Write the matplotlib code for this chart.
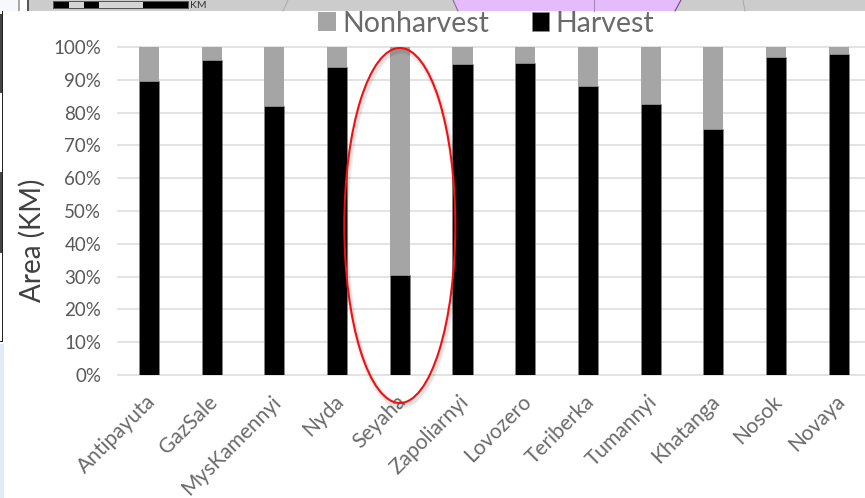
import matplotlib
matplotlib.use("Agg")
import matplotlib.pyplot as plt
from matplotlib.patches import Ellipse, Rectangle, Polygon
from matplotlib.ticker import PercentFormatter
from matplotlib.transforms import ScaledTranslation
import matplotlib.patheffects as pe

plt.rcParams["font.family"] = ["Lato", "DejaVu Sans"]

sites = ["Antipayuta", "GazSale", "MysKamennyi", "Nyda", "Seyaha", "Zapoliarnyi",
         "Lovozero", "Teriberka", "Tumannyi", "Khatanga", "Nosok", "Novaya"]
harvest = [89.5, 96, 82, 94, 30.5, 94.7, 95, 88, 82.7, 75, 97, 98]
nonharvest = [100 - v for v in harvest]
y_ticks = list(range(0, 101, 10))

W, H = 865, 498
fig = plt.figure(figsize=(W / 100, H / 100), dpi=100, facecolor="white")

# Page furniture around the chart panel, in pixel coordinates
bg = fig.add_axes([0, 0, 1, 1], zorder=0)
bg.set_xlim(0, W)
bg.set_ylim(H, 0)
bg.axis("off")


def box(x0, y0, x1, y1, color):
    bg.add_patch(Rectangle((x0, y0), x1 - x0, y1 - y0, facecolor=color, edgecolor="none"))


box(0, 0, 18, 11, "#f6f8fc")
box(18, 0, 20, 11, "#a8a8a8")
box(27, 0, 28.5, 11, "#555555")
box(28.5, 0, W, 11, "#cccccc")
bg.add_patch(Polygon([(453, 0), (458, 11), (675, 11), (681, 0)], closed=True,
                     facecolor="#e4bcfb", edgecolor="none"))
bg.plot([453, 458], [0, 11], color="#8a6a96", lw=0.8)
bg.plot([681, 675], [0, 11], color="#6f4a80", lw=0.8)
bg.plot([594, 594], [0, 11], color="#a78ab5", lw=0.8)
bg.plot([288, 283], [0, 11], color="#aaaaaa", lw=0.7)
bg.plot([743, 745], [0, 11], color="#aaaaaa", lw=0.7)
box(53, 1, 189, 9, "#555555")
for x0, x1, c in [(54, 69, "#000000"), (69, 84, "#d5d5d5"), (84, 99, "#000000"),
                  (99, 143, "#d5d5d5"), (143, 188, "#000000")]:
    box(x0, 2, x1, 8, c)
bg.text(190, 5, "KM", fontsize=7.5, color="#333333", va="center", ha="left")

box(0, 14, 3, 93, "#454545")
box(0, 172, 3, 253, "#454545")
box(2.2, 11, 3.4, 341, "#222222")
box(0, 341, 3.4, 342, "#222222")
box(0, 344, 4, H, "#e1eaf5")

# Stacked percentage bars
ax = fig.add_axes([118 / W, 1 - 375 / H, (W - 118) / W, (375 - 47) / H], zorder=1)
ax.patch.set_alpha(0)
x = range(len(sites))
ax.bar(x, harvest, width=0.32, color="black", edgecolor="#8a8a8a", linewidth=0.4,
       label="Harvest", zorder=3)
ax.bar(x, nonharvest, width=0.32, bottom=harvest, color="#a5a5a5", edgecolor="none",
       label="Nonharvest", zorder=3)
ax.set_xlim(-0.495, 11.42)
ax.set_ylim(0, 100)
ax.set_yticks(y_ticks)
ax.yaxis.set_major_formatter(PercentFormatter(100, decimals=0))
ax.grid(axis="y", color="#e3e3e3", lw=1.4, zorder=0)
ax.set_axisbelow(True)
for s in ax.spines.values():
    s.set_visible(False)
for tick in ax.yaxis.get_major_ticks():
    tick.gridline.set_clip_on(False)
ax.tick_params(axis="both", length=0)
ax.tick_params(axis="y", labelsize=13.5, labelcolor="#595959", pad=12)
ax.set_xticks(list(x))
ax.set_xticklabels(sites, rotation=45, ha="right", rotation_mode="anchor",
                   fontsize=15.1, color="#6a6a6a")
ax.tick_params(axis="x", pad=12)
nudge = ScaledTranslation(-4 / 100, 0, fig.dpi_scale_trans)
for lab in ax.get_xticklabels():
    lab.set_transform(lab.get_transform() + nudge)
ax.set_ylabel("Area (KM)", fontsize=20, color="#404040")
ax.yaxis.set_label_coords((46 - 118) / (W - 118), 0.41)

# Legend above the plot, non-harvest first
handles, labels = ax.get_legend_handles_labels()
leg = ax.legend(handles[::-1], labels[::-1], ncol=2, frameon=False, fontsize=20.5,
                labelcolor="#6a6a6a", loc="center", bbox_to_anchor=(0.493, 1.071),
                handlelength=0.62, handleheight=0.62, handletextpad=0.22, columnspacing=1.5,
                borderpad=0)

# Red ring around the Seyaha column, with a soft shadow along its stroke
ring = Ellipse((4, 100 * (375 - 225.5) / 328), width=111 / 62.7, height=355 / 3.28,
               facecolor="none", edgecolor="#f01010", lw=1.5, clip_on=False, zorder=5,
               path_effects=[pe.Stroke(linewidth=4.5, foreground="#000000", alpha=0.05, offset=(1, -2)),
                             pe.Stroke(linewidth=2.8, foreground="#000000", alpha=0.06, offset=(1, -2)),
                             pe.Normal()])
ax.add_patch(ring)

fig.savefig("out.png", dpi=100)
